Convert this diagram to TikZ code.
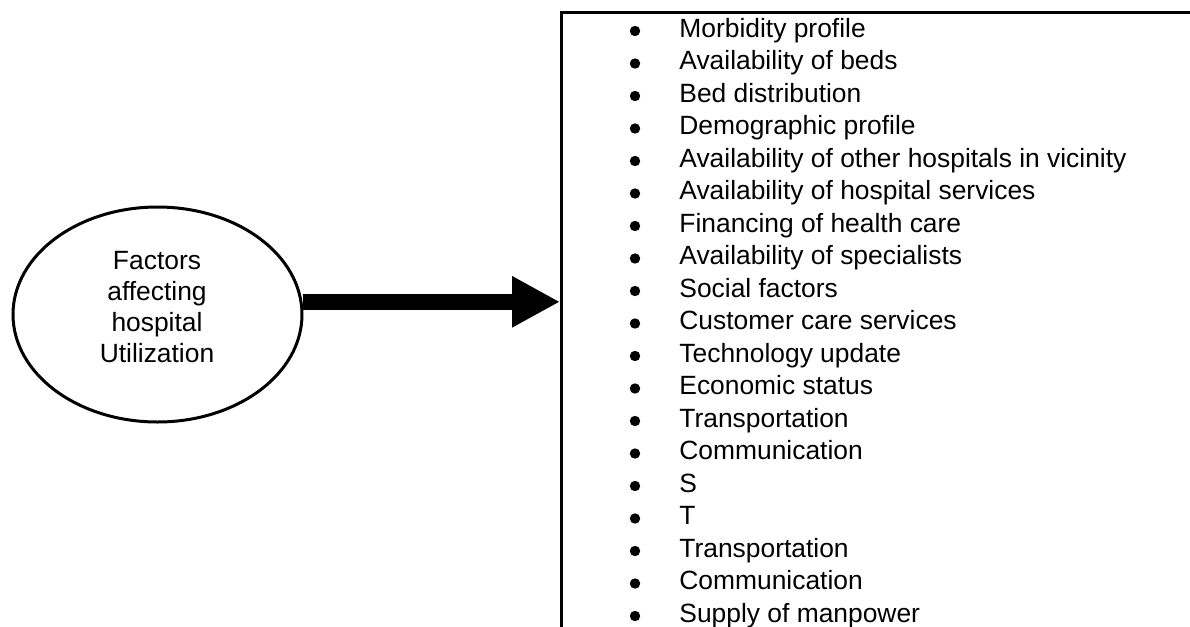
\documentclass[tikz,border=0pt]{standalone}
\usepackage{fontspec}
\setmainfont{Liberation Sans}
\usetikzlibrary{positioning,shapes.geometric,arrows.meta}

\begin{document}
\begin{tikzpicture}[x=0.5pt,y=-0.5pt,
  factor/.style={anchor=base west,inner sep=0pt,font=\fontsize{13.2}{15}\selectfont},
  fatarrow/.style={line width=8pt,-{Triangle[length=24pt,width=24pt]}}]
\useasboundingbox (0,0) rectangle (1190,627);
% cause
\node(cause)    [ellipse,draw,line width=1.5pt,minimum width=144.5pt,minimum height=107.5pt,inner sep=0pt] at (157.5,314.5) {};
\node(causetxt) [align=center,inner sep=0pt,font=\fontsize{13.2}{15.35}\selectfont] at (157,307) {Factors\\affecting\\hospital\\Utilization};
% list box
\node(box)      [draw,line width=1.5pt,minimum width=700pt,minimum height=400pt,anchor=north west,inner sep=0pt] at (560,11) {};
\node(f1)       [factor] at (679,37) {Morbidity profile};
\foreach \t [count=\i from 2, remember=\i as \j (initially 1)] in {Availability of beds,Bed distribution,Demographic profile,Availability of other hospitals in vicinity,Availability of hospital services,Financing of health care,Availability of specialists,Social factors,Customer care services,Technology update,Economic status,Transportation,Communication,S,T,Transportation,Communication,Supply of manpower} {
\node(f\i)      [factor,below=16.25pt of f\j.base west,anchor=base west] {\t};
}
\foreach \i in {1,...,19} {
\fill (f\i.base west) ++(-44,-6) circle [radius=2.6pt];
}
% arrow
\draw[fatarrow] (cause.5) -- (cause.5 -| box.west);
\end{tikzpicture}
\end{document}
